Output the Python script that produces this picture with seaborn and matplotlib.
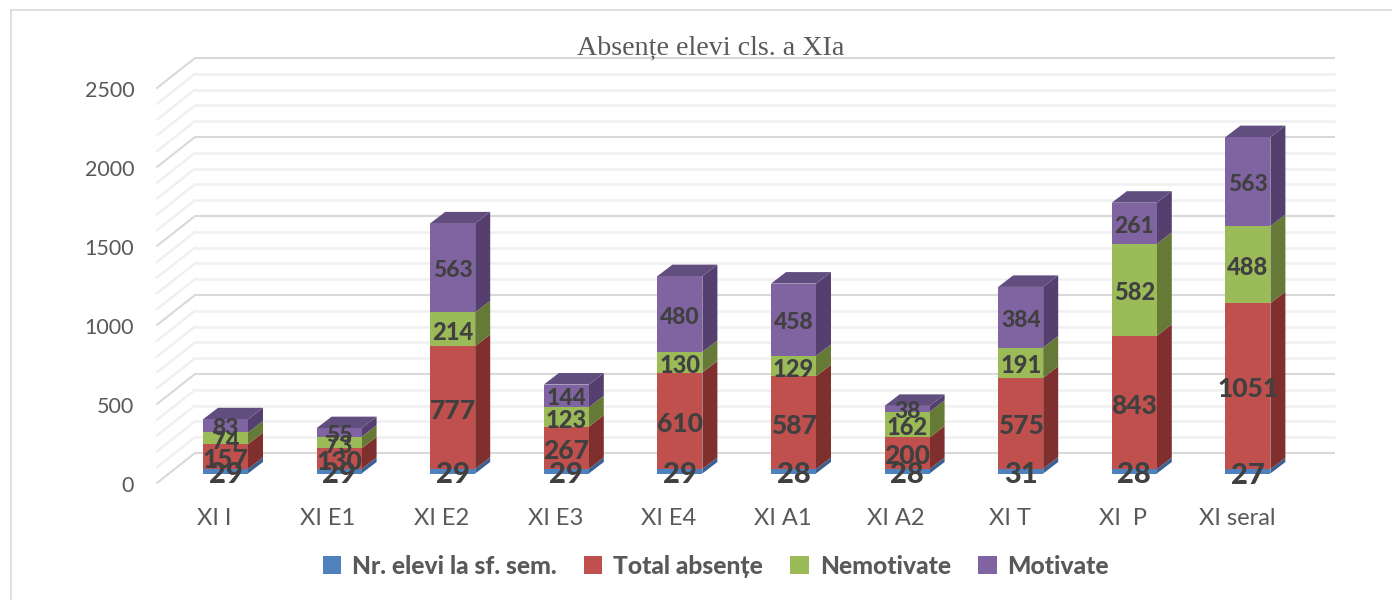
import numpy as np
import matplotlib
matplotlib.use('Agg')
import matplotlib.pyplot as plt
import seaborn as sns
from matplotlib.patches import Polygon
from matplotlib.transforms import ScaledTranslation

categories = ['XI I', 'XI E1', 'XI E2', 'XI E3', 'XI E4', 'XI A1', 'XI A2', 'XI T', 'XI  P', 'XI seral']
elevi = [29, 29, 29, 29, 29, 28, 28, 31, 28, 27]
total = [157, 130, 777, 267, 610, 587, 200, 575, 843, 1051]
nemotivate = [74, 73, 214, 123, 130, 129, 162, 191, 582, 488]
motivate = [83, 55, 563, 144, 480, 458, 38, 384, 261, 563]
y_ticks = [0, 500, 1000, 1500, 2000, 2500]

series = [
    ('Nr. elevi la sf. sem.', elevi, '#4f81bd', '#3a6191', 21),
    ('Total absențe', total, '#c0504d', '#7f2f2d', 19),
    ('Nemotivate', nemotivate, '#9bbb59', '#667a37', 17),
    ('Motivate', motivate, '#8064a2', '#553f6e', 16.5),
]

sns.set_theme(style='white')
plt.rcParams['font.family'] = ['Lato', 'DejaVu Sans']

# one category is 113.6 px wide, one unit of value is 0.158 px high
step_px = 113.6
unit_px = 0.158
bar_w = 45 / step_px
depth_x = 15 / step_px
depth_y = 11.5 / unit_px

fig = plt.figure(figsize=(13.92, 6), dpi=100)
ax = fig.add_axes([11 / 1392, 0, 1381 / 1392, 590.5 / 600])

# back wall and side wall of the 3D box
for v in range(0, 2501, 100):
    col = '#d9d9d9' if v % 500 == 0 else '#f0f0f0'
    lw = 1.5 if v % 500 == 0 else 1.8
    ax.plot([-0.268, 9.767], [v + 130, v + 130], color=col, lw=lw, zorder=0.5, solid_capstyle='butt')
    ax.plot([-0.603, -0.268], [v - 60, v + 130], color=col, lw=lw, zorder=0.5)

bottom = np.zeros(len(categories))
for name, vals, col, dark, size in series:
    sns.barplot(x=categories, y=vals, bottom=bottom, color=col, saturation=1,
                width=bar_w, label=name, ax=ax, legend=False, zorder=1.5, linewidth=0)
    top = bottom + np.array(vals)
    for i in range(len(categories)):
        r = i + bar_w / 2
        ax.add_patch(Polygon([(r, bottom[i]), (r + depth_x, bottom[i] + depth_y),
                              (r + depth_x, top[i] + depth_y), (r, top[i])],
                             facecolor=dark, edgecolor='none', zorder=1.4))
    bottom = top

# lid of the top segment
for i in range(len(categories)):
    l = i - bar_w / 2
    r = i + bar_w / 2
    ax.add_patch(Polygon([(l, bottom[i]), (r, bottom[i]), (r + depth_x, bottom[i] + depth_y),
                          (l + depth_x, bottom[i] + depth_y)],
                         facecolor='#624d7f', edgecolor='none', zorder=1.4))

for container, (name, vals, col, dark, size) in zip(ax.containers, series):
    labels = ax.bar_label(container, label_type='center', fontsize=size, fontweight='black', color='#404040')
    for t in labels:
        t.xyann = (0, -2.2)
        if name.startswith('Nr.'):
            t.xyann = (0, -3)
            t.set_zorder(6)

ax.set_xlim((11 - 225.5) / step_px, (1392 - 225.5) / step_px)
ax.set_ylim((473.5 - 600) / unit_px, (473.5 - 9.5) / unit_px)
ax.set_yticks(y_ticks)
ax.set_xticks(range(len(categories)))
ax.set_xticklabels(categories)
ax.set_xlabel('')
ax.set_ylabel('')
ax.tick_params(axis='y', length=0, labelsize=15.5, labelcolor='#595959')
ax.tick_params(axis='x', length=0, labelsize=17, labelcolor='#595959')

# tick labels sit on the front plane of the box, not on the axes edge
px = 72 / 100
for t in ax.get_yticklabels():
    t.set_transform(t.get_transform() + ScaledTranslation(128 * px / 72, -10.5 * px / 72, fig.dpi_scale_trans))
for t in ax.get_xticklabels():
    t.set_transform(t.get_transform() + ScaledTranslation(-11 * px / 72, 97 * px / 72, fig.dpi_scale_trans))

for side in ['right', 'bottom']:
    ax.spines[side].set_visible(False)
for side in ['left', 'top']:
    ax.spines[side].set_color('#d9d9d9')
    ax.spines[side].set_linewidth(1.2)

fig.text(711 / 1392, 1 - 48 / 600, 'Absențe elevi cls. a XIa', family='Liberation Serif',
         fontsize=20.2, color='#595959', ha='center', va='center')

handles = [c[0] for c in ax.containers]
fig.legend(handles, [s[0] for s in series], loc='center', bbox_to_anchor=(716 / 1392, 1 - 566 / 600),
           ncol=4, frameon=False, handlelength=0.75, handleheight=0.75, handletextpad=0.45,
           columnspacing=1.1, prop={'weight': 'black', 'size': 17.7}, labelcolor='#595959')

fig.savefig('out.png', dpi=100)
